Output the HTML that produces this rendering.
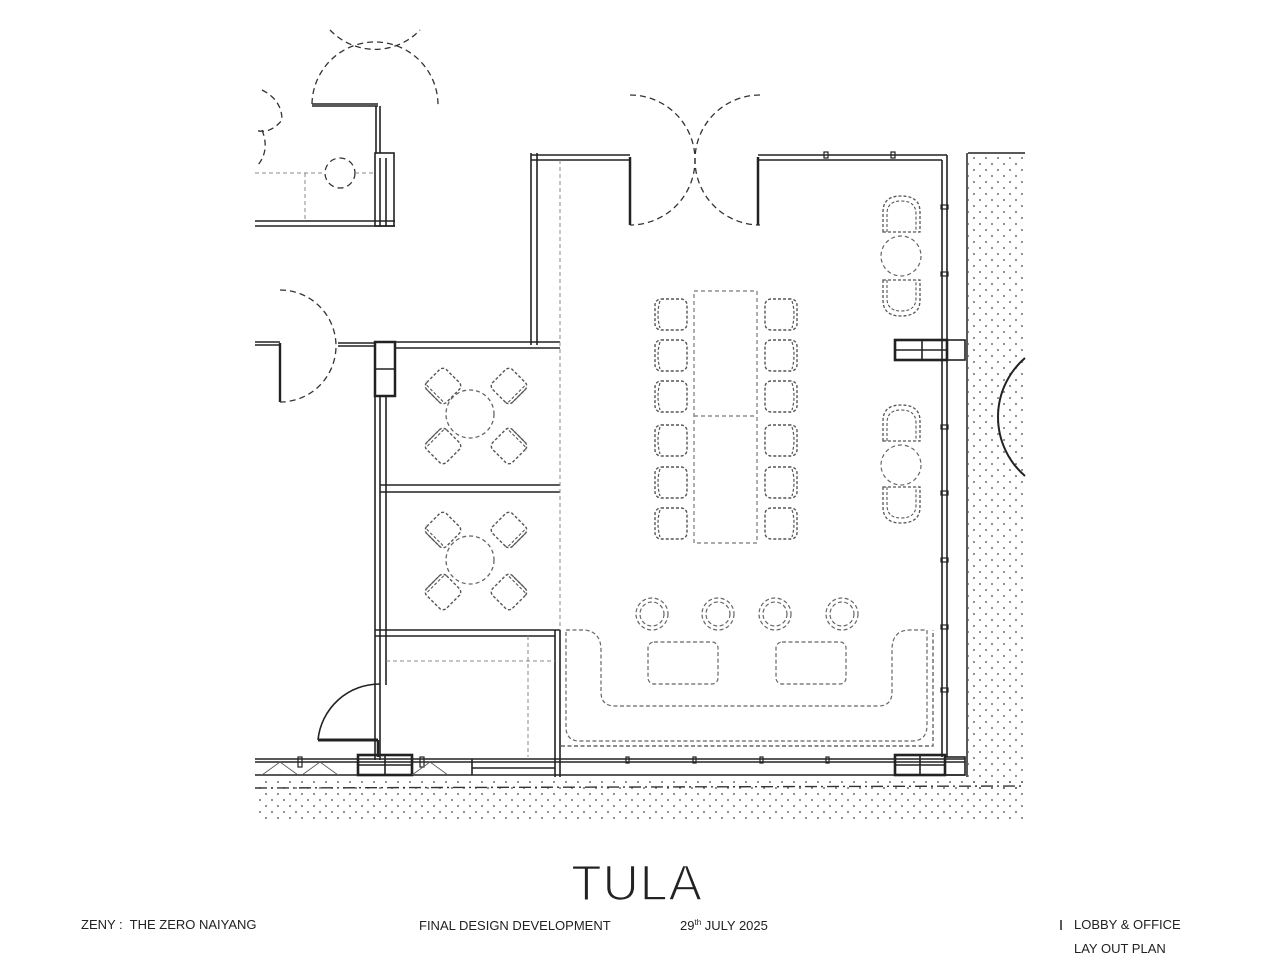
<!DOCTYPE html>
<html><head><meta charset="utf-8"><style>
html,body{margin:0;padding:0;background:#fff;width:1280px;height:960px;overflow:hidden}
svg{display:block}
.t{font-family:"Liberation Sans",sans-serif;fill:#222}
</style></head><body>
<svg width="1280" height="960" viewBox="0 0 1280 960" xmlns="http://www.w3.org/2000/svg">
<defs>
<pattern id="dots" width="12" height="12" patternUnits="userSpaceOnUse">
<circle cx="2" cy="2" r="0.9" fill="#444"/><circle cx="8" cy="8" r="0.9" fill="#444"/>
</pattern>
<g id="cl">
<rect x="0" y="0" width="32" height="31" rx="6" fill="none" stroke="#555" stroke-width="1.4" stroke-dasharray="3,2"/>
<path d="M5 2 Q1 15 5 29" fill="none" stroke="#555" stroke-width="1.2" stroke-dasharray="3,2"/>
</g>
<g id="dc">
<rect x="-14" y="-14" width="28" height="28" rx="5" fill="none" stroke="#555" stroke-width="1.4" stroke-dasharray="3,2"/>
<path d="M-14 -9 L-14 9 M-11 -12 L-11 12" fill="none" stroke="#555" stroke-width="1.1" stroke-dasharray="3,2"/>
</g>
<g id="ac">
<path d="M0 36 L0 16 Q0 0 18 0 Q37 0 37 16 L37 36 Z" fill="none" stroke="#555" stroke-width="1.3" stroke-dasharray="3,2"/>
<path d="M4 36 L4 18 Q4 5 18 5 Q33 5 33 18 L33 36" fill="none" stroke="#555" stroke-width="1.1" stroke-dasharray="3,2"/>
</g>
</defs>

<rect x="968" y="155" width="57" height="635" fill="url(#dots)"/>
<rect x="255" y="778" width="770" height="42" fill="url(#dots)"/>
<line x1="255" y1="788" x2="1025" y2="786" stroke="#333" stroke-width="1.4" stroke-dasharray="12,4,2,4"/>
<line x1="968" y1="153" x2="1025" y2="153" stroke="#222" stroke-width="1.5"/>
<line x1="967" y1="153" x2="967" y2="777" stroke="#222" stroke-width="1.5"/>

<g fill="none" stroke="#222" stroke-width="1.6">
<line x1="255" y1="221" x2="395" y2="221"/><line x1="255" y1="226" x2="395" y2="226"/>
<rect x="375" y="153" width="19" height="73"/>
<line x1="380" y1="158" x2="380" y2="226"/><line x1="386" y1="158" x2="386" y2="226"/>
<line x1="312" y1="104" x2="378" y2="104"/><line x1="312" y1="106" x2="378" y2="106"/>
<line x1="376" y1="106" x2="376" y2="153"/><line x1="380" y1="106" x2="380" y2="153"/>
<line x1="255" y1="342" x2="280" y2="342"/><line x1="255" y1="345" x2="280" y2="345"/>
<line x1="280" y1="343" x2="280" y2="402" stroke-width="2.4"/>
<line x1="338" y1="343" x2="375" y2="343"/><line x1="338" y1="346" x2="375" y2="346"/>

<line x1="531" y1="153" x2="531" y2="345"/><line x1="537" y1="153" x2="537" y2="345"/>
<line x1="531" y1="155" x2="630" y2="155"/><line x1="531" y1="160" x2="630" y2="160"/>
<line x1="630" y1="157" x2="630" y2="225" stroke-width="2.5"/>
<line x1="758" y1="157" x2="758" y2="225" stroke-width="2.5"/>
<line x1="758" y1="155" x2="947" y2="155"/><line x1="758" y1="160" x2="942" y2="160"/>
<line x1="942" y1="160" x2="942" y2="757"/><line x1="947" y1="155" x2="947" y2="757"/>

<line x1="375" y1="342" x2="375" y2="760"/><line x1="380" y1="395" x2="380" y2="760"/><line x1="386" y1="395" x2="386" y2="685"/>
<rect x="375" y="342" width="20" height="54" stroke-width="2.5"/>
<line x1="375" y1="369" x2="395" y2="369"/>
<line x1="395" y1="342" x2="560" y2="342"/><line x1="395" y1="348" x2="560" y2="348"/>
<line x1="380" y1="485" x2="560" y2="485"/><line x1="380" y1="492" x2="560" y2="492"/>
<line x1="375" y1="630" x2="560" y2="630"/><line x1="375" y1="636" x2="555" y2="636"/>
<line x1="555" y1="630" x2="555" y2="777"/><line x1="560" y1="630" x2="560" y2="777"/>

<path d="M380 684 A62 62 0 0 0 318 740"/>
<line x1="318" y1="740" x2="378" y2="740" stroke-width="3"/>
<line x1="378" y1="740" x2="378" y2="757" stroke-width="2.5"/>

<line x1="255" y1="759" x2="965" y2="759"/><line x1="255" y1="762" x2="965" y2="762"/>
<line x1="255" y1="775" x2="965" y2="775"/>
<line x1="472" y1="759" x2="472" y2="775"/><line x1="472" y1="768" x2="555" y2="768"/>
<rect x="358" y="755" width="54" height="20" stroke-width="2.6"/><line x1="385" y1="755" x2="385" y2="775"/><line x1="358" y1="765" x2="412" y2="765"/>
<rect x="895" y="755" width="50" height="20" stroke-width="2.6"/><line x1="920" y1="755" x2="920" y2="775"/><line x1="895" y1="765" x2="945" y2="765"/>
<rect x="895" y="340" width="52" height="20" stroke-width="2.6"/><line x1="922" y1="340" x2="922" y2="360"/><line x1="895" y1="350" x2="947" y2="350"/>
<rect x="947" y="340" width="18" height="20"/>
<rect x="945" y="757" width="20" height="18"/>
<g stroke-width="1.2">
<rect x="626" y="757" width="3" height="6"/><rect x="693" y="757" width="3" height="6"/><rect x="760" y="757" width="3" height="6"/><rect x="826" y="757" width="3" height="6"/>
<rect x="824" y="152" width="4" height="6"/><rect x="891" y="152" width="4" height="6"/>
<rect x="941" y="205" width="7" height="4"/><rect x="941" y="272" width="7" height="4"/><rect x="941" y="425" width="7" height="4"/><rect x="941" y="491" width="7" height="4"/><rect x="941" y="558" width="7" height="4"/><rect x="941" y="625" width="7" height="4"/><rect x="941" y="688" width="7" height="4"/>
<rect x="298" y="757" width="4" height="10"/><rect x="420" y="757" width="4" height="10"/>
</g>
<path d="M262 775 L280 762 L298 775 M302 775 L320 762 L338 775 M412 775 L430 762 L448 775" stroke-width="0.8" stroke="#555"/>
<path d="M1025 358 A78 78 0 0 0 1025 476" stroke-width="2"/>
</g>

<g fill="none" stroke="#333" stroke-width="1.3" stroke-dasharray="6,4">
<path d="M312 104 A63 63 0 0 1 438 106"/>
<path d="M330 30 A62 62 0 0 0 420 30"/>
<path d="M630 95 A65 65 0 0 1 630 225"/>
<path d="M760 95 A65 65 0 0 0 760 225"/>
<path d="M280 290 A56 56 0 0 1 280 402"/>
<path d="M262 90 Q282 100 282 120 Q270 135 255 130"/>
<path d="M262 130 Q270 150 258 165"/>
<circle cx="340" cy="173" r="15"/>
</g>
<g fill="none" stroke="#888" stroke-width="1" stroke-dasharray="4,3">
<line x1="255" y1="173" x2="325" y2="173"/><line x1="355" y1="173" x2="375" y2="173"/>
<line x1="305" y1="173" x2="305" y2="221"/>
<line x1="560" y1="160" x2="560" y2="630"/>
<line x1="528" y1="636" x2="528" y2="757"/>
<line x1="386" y1="661" x2="555" y2="661"/>
</g>

<g fill="none" stroke="#666" stroke-width="1.3" stroke-dasharray="4,3">
<circle cx="470" cy="414" r="24"/><circle cx="470" cy="560" r="24"/>
</g>
<use href="#dc" transform="translate(443,386) rotate(-45)"/>
<use href="#dc" transform="translate(509,386) rotate(-135)"/>
<use href="#dc" transform="translate(443,446) rotate(45)"/>
<use href="#dc" transform="translate(509,446) rotate(135)"/>
<use href="#dc" transform="translate(443,530) rotate(-45)"/>
<use href="#dc" transform="translate(509,530) rotate(-135)"/>
<use href="#dc" transform="translate(443,592) rotate(45)"/>
<use href="#dc" transform="translate(509,592) rotate(135)"/>

<g fill="none" stroke="#777" stroke-width="1.2" stroke-dasharray="4,3">
<rect x="694" y="291" width="63" height="252"/><line x1="694" y1="416" x2="757" y2="416"/>
</g>
<use href="#cl" x="655" y="299"/><use href="#cl" x="655" y="340"/><use href="#cl" x="655" y="381"/>
<use href="#cl" x="655" y="425"/><use href="#cl" x="655" y="467"/><use href="#cl" x="655" y="508"/>
<g transform="translate(1452,0) scale(-1,1)">
<use href="#cl" x="655" y="299"/><use href="#cl" x="655" y="340"/><use href="#cl" x="655" y="381"/>
<use href="#cl" x="655" y="425"/><use href="#cl" x="655" y="467"/><use href="#cl" x="655" y="508"/>
</g>

<use href="#ac" x="883" y="196"/>
<use href="#ac" transform="translate(883,316) scale(1,-1)"/>
<use href="#ac" x="883" y="405"/>
<use href="#ac" transform="translate(883,523) scale(1,-1)"/>
<g fill="none" stroke="#666" stroke-width="1.2" stroke-dasharray="4,3">
<circle cx="901" cy="256" r="20"/><circle cx="901" cy="465" r="20"/>
</g>

<g fill="none" stroke="#666" stroke-width="1.2" stroke-dasharray="4,2.5">
<circle cx="652" cy="614" r="16"/><circle cx="652" cy="614" r="12"/>
<circle cx="718" cy="614" r="16"/><circle cx="718" cy="614" r="12"/>
<circle cx="775" cy="614" r="16"/><circle cx="775" cy="614" r="12"/>
<circle cx="842" cy="614" r="16"/><circle cx="842" cy="614" r="12"/>
<rect x="648" y="642" width="70" height="42" rx="6"/>
<rect x="776" y="642" width="70" height="42" rx="6"/>
<path d="M566 630 L585 630 Q601 632 601 650 L601 692 Q601 706 615 706 L878 706 Q892 706 892 692 L892 650 Q892 630 910 630 L927 630 L927 725 Q927 741 912 741 L580 741 Q566 741 566 727 Z"/>
<path d="M561 746 L933 746 L933 630" stroke-width="1.4"/>
</g>

<text x="637" y="900" text-anchor="middle" class="t" style="font-size:50px;letter-spacing:1px" fill="#111" stroke="#fff" stroke-width="1.6" paint-order="normal">TULA</text>
<text x="81" y="929" class="t" style="font-size:13px">ZENY :&#160; THE ZERO NAIYANG</text>
<text x="419" y="930" class="t" style="font-size:13px">FINAL DESIGN DEVELOPMENT</text>
<text x="680" y="930" class="t" style="font-size:13px">29<tspan dy="-5" style="font-size:8px">th</tspan><tspan dy="5"> JULY 2025</tspan></text>
<line x1="1061" y1="920" x2="1061" y2="930" stroke="#222" stroke-width="1.5"/>
<text x="1074" y="929" class="t" style="font-size:13px">LOBBY &amp; OFFICE</text>
<text x="1074" y="953" class="t" style="font-size:13px">LAY OUT PLAN</text>
</svg>
</body></html>
